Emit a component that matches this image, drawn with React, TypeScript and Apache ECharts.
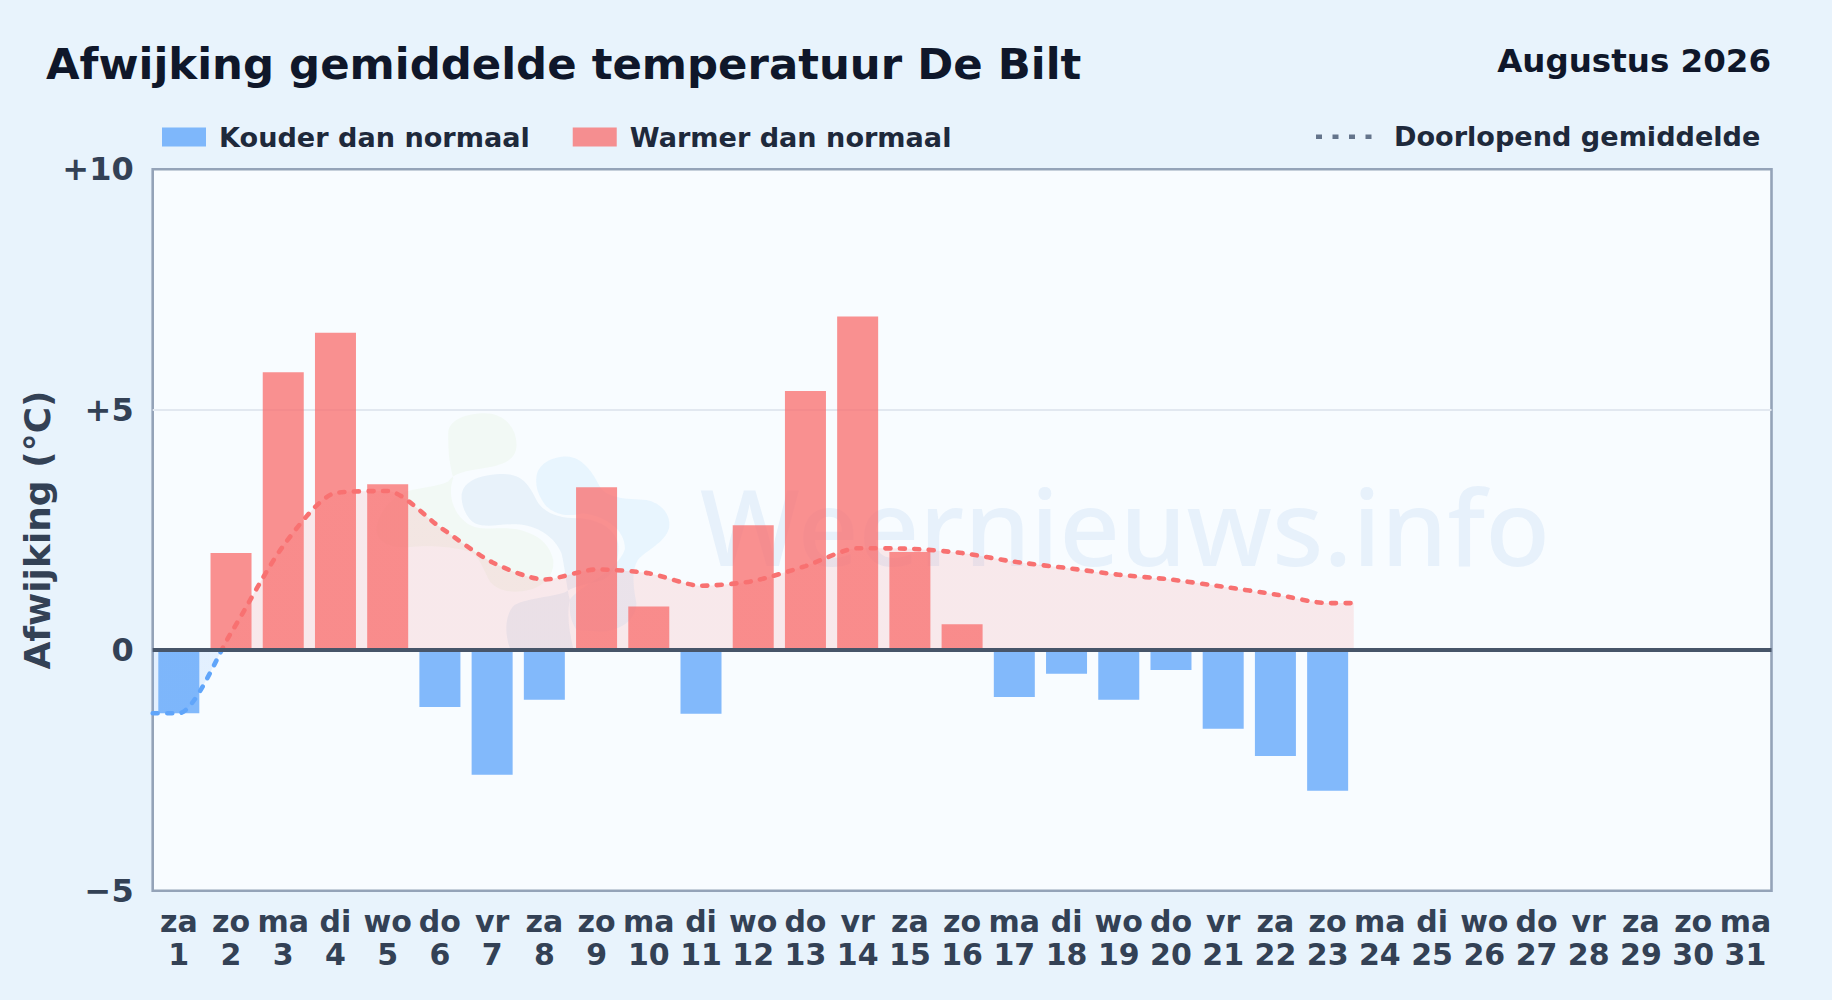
import React, { useEffect, useRef } from "react";
import * as echarts from "echarts";

const weekdays = ["za","zo","ma","di","wo","do","vr","za","zo","ma","di","wo","do","vr","za","zo","ma","di","wo","do","vr","za","zo","ma","di","wo","do","vr","za","zo","ma"];
const dayNumbers = ["1","2","3","4","5","6","7","8","9","10","11","12","13","14","15","16","17","18","19","20","21","22","23","24","25","26","27","28","29","30","31"];
const deviations = [-1.31,2.02,5.78,6.6,3.45,-1.18,-2.59,-1.03,3.39,0.91,-1.32,2.6,5.39,6.94,2.04,0.54,-0.97,-0.49,-1.03,-0.41,-1.63,-2.2,-2.92];
const runningMean = [-1.31,0.36,2.17,3.27,3.31,2.56,1.83,1.47,1.68,1.6,1.34,1.44,1.75,2.12,2.11,2.02,1.84,1.71,1.57,1.47,1.32,1.16,0.98];
const yTickLabels: Record<string, string> = { "-5": "−5", "0": "0", "5": "+5", "10": "+10" };

const BLUE = "#60a5fa";
const RED = "#f87171";
const FONT = "DejaVu Sans";
const GRID_TOP = 169.3;
const GRID_H = 721.4;
const Y_MIN = -5;
const Y_MAX = 10;

const greenBlob = "M235 100C235 60 290 40 345 40C400 40 440 80 440 135C440 180 400 195 340 205C290 212 250 220 235 245C200 262 150 262 110 275C70 290 30 330 20 380C15 420 50 445 115 442C170 435 250 440 300 455C330 470 340 510 360 545C385 575 430 582 480 570C530 555 555 520 550 480C540 430 500 400 440 388C390 380 340 395 300 375C255 350 230 290 250 235C235 180 235 140 235 100Z";
const darkBlob = "M275 290C275 240 340 222 400 222C460 222 480 260 500 300C520 340 570 355 620 355C680 355 735 385 745 430C750 480 735 520 700 540C650 555 610 560 590 575C560 590 470 595 435 615C410 635 400 690 420 745L610 745C600 700 590 650 600 600C590 560 585 500 575 460C555 410 500 375 440 373C390 372 350 385 315 370C290 355 275 320 275 290Z";
const lightBlob = "M500 230C505 190 550 170 590 170C640 172 670 220 690 260C710 295 770 298 830 300C880 310 905 350 898 385C885 430 830 450 805 480C785 510 790 560 800 610C800 660 750 695 690 695L620 690C600 660 598 630 600 600C625 560 740 520 765 450C770 400 720 350 640 340C590 352 560 345 530 320C510 295 495 265 500 230Z";

echarts.graphic.registerShape("logoGreen", echarts.graphic.extendPath(greenBlob, {}));
echarts.graphic.registerShape("logoDark", echarts.graphic.extendPath(darkBlob, {}));
echarts.graphic.registerShape("logoLight", echarts.graphic.extendPath(lightBlob, {}));

function splitAtZero(above: string, below: string) {
  const zero = Y_MAX / (Y_MAX - Y_MIN);
  return new echarts.graphic.LinearGradient(0, GRID_TOP, 0, GRID_TOP + GRID_H, [
    { offset: 0, color: above },
    { offset: zero, color: above },
    { offset: zero, color: below },
    { offset: 1, color: below },
  ], true);
}

export default function App() {
  const ref = useRef<HTMLDivElement>(null);

  useEffect(() => {
    document.body.style.margin = "0";
    const chart = echarts.init(ref.current!, undefined, { renderer: "svg" });
    const categories = weekdays.map((d, i) => `${d}\n${dayNumbers[i]}`);
    const linePoints: number[][] = [
      [0, runningMean[0]],
      ...runningMean.map((v, i) => [i + 0.5, v]),
      [runningMean.length, runningMean[runningMean.length - 1]],
    ];
    const logoBase = { x: 370, y: 400, scaleX: 1 / 3, scaleY: 1 / 3, silent: true, z: 1 };

    chart.setOption({
      animation: false,
      backgroundColor: "#e8f3fc",
      textStyle: { fontFamily: FONT },
      title: [
        { text: "Afwijking gemiddelde temperatuur De Bilt", left: 41, top: 37, textStyle: { fontFamily: FONT, fontSize: 43.4, fontWeight: "bold", color: "#0f172a" } },
        { text: "Augustus 2026", right: 56, top: 39, textStyle: { fontFamily: FONT, fontSize: 32.5, fontWeight: "bold", color: "#0f172a" } },
      ],
      legend: {
        left: 162, top: 123.5, itemWidth: 44, itemHeight: 19, itemGap: 43, icon: "rect", padding: 0,
        data: ["Kouder dan normaal", "Warmer dan normaal"],
        textStyle: { fontFamily: FONT, fontSize: 27.1, fontWeight: "bold", color: "#1e293b", padding: [0, 0, 0, 8] },
      },
      grid: {
        show: true, left: 152.7, top: GRID_TOP, width: 1618.8, height: GRID_H,
        backgroundColor: "#f8fcff", borderColor: "#94a3b8", borderWidth: 2.6,
      },
      xAxis: [
        {
          type: "category", data: categories, boundaryGap: true,
          axisLine: { show: false }, axisTick: { show: false }, splitLine: { show: false },
          axisLabel: { interval: 0, margin: 14, fontFamily: FONT, fontSize: 30, fontWeight: "bold", color: "#334155", lineHeight: 33.5 },
        },
        { type: "value", min: 0, max: 31, show: false },
      ],
      yAxis: {
        type: "value", min: Y_MIN, max: Y_MAX, interval: 5,
        name: "Afwijking (°C)", nameLocation: "middle", nameGap: 97, nameRotate: 90, nameMoveOverlap: false,
        nameTextStyle: { fontFamily: FONT, fontSize: 36, fontWeight: "bold", color: "#334155" },
        axisLine: { show: false }, axisTick: { show: false },
        axisLabel: { margin: 19, fontFamily: FONT, fontSize: 32, fontWeight: "bold", color: "#334155", formatter: (v: number) => yTickLabels[String(v)] },
        splitLine: { show: true, lineStyle: { color: ["rgba(0,0,0,0)", "rgba(0,0,0,0)", "#e2e8f0", "rgba(0,0,0,0)"], width: 2 } },
      },
      series: [
        {
          name: "Kouder dan normaal", type: "bar", barWidth: 41, barGap: "-100%",
          itemStyle: { color: BLUE, opacity: 0.78 },
          data: deviations.map((v) => (v < 0 ? v : null)),
        },
        {
          name: "Warmer dan normaal", type: "bar", barWidth: 41, barGap: "-100%",
          itemStyle: { color: RED, opacity: 0.78 },
          data: deviations.map((v) => (v >= 0 ? v : null)),
          markLine: {
            silent: true, symbol: "none", label: { show: false }, z: 6,
            lineStyle: { color: "#475569", width: 3.8, type: "solid" },
            data: [{ yAxis: 0 }],
          },
        },
        {
          name: "Doorlopend gemiddelde", type: "line", xAxisIndex: 1, z: 4,
          smooth: 0.25, showSymbol: false, symbol: "none",
          lineStyle: { width: 4.6, type: [5, 9.5], cap: "round", color: splitAtZero(RED, BLUE) },
          areaStyle: { opacity: 1, color: splitAtZero("rgba(248,113,113,0.14)", "rgba(96,165,250,0.14)") },
          data: linePoints,
        },
      ],
      graphic: [
        { type: "logoGreen", ...logoBase, style: { fill: "rgba(150,210,80,0.06)" } },
        { type: "logoLight", ...logoBase, style: { fill: "rgba(70,170,240,0.085)" } },
        { type: "logoDark", ...logoBase, style: { fill: "rgba(40,120,190,0.075)" } },
        {
          type: "text", x: 700, y: 472, silent: true, z: 1,
          style: { text: "Weernieuws.info", fontFamily: "Noto Sans", fontSize: 106, fontWeight: 500, fill: "rgba(40,120,200,0.08)" },
        },
        {
          type: "line", silent: true, z: 3,
          shape: { x1: 1316, y1: 136.7, x2: 1373, y2: 136.7 },
          style: { stroke: "#64748b", lineWidth: 4.4, lineDash: [6, 10.5] },
        },
        {
          type: "text", x: 1394, y: 136.7, silent: true, z: 3,
          style: { text: "Doorlopend gemiddelde", fontFamily: FONT, fontSize: 27.1, fontWeight: "bold", fill: "#1e293b", verticalAlign: "middle" },
        },
      ],
    });
    return () => chart.dispose();
  }, []);

  return <div ref={ref} style={{ width: 1832, height: 1000 }} />;
}
